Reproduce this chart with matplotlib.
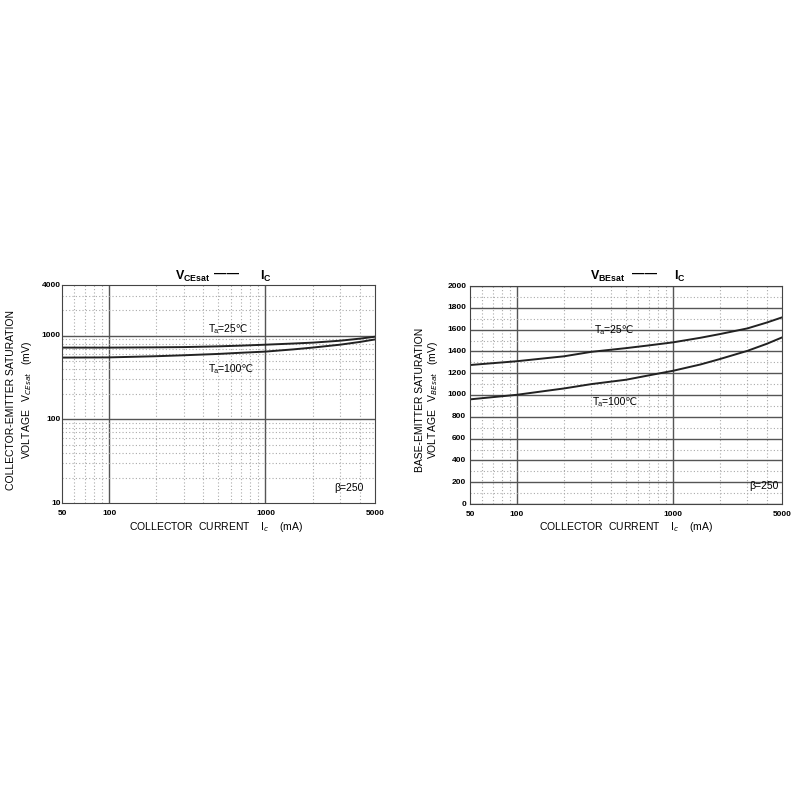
import matplotlib
matplotlib.use('Agg')
import matplotlib.pyplot as plt
from matplotlib.ticker import FixedLocator, NullFormatter

plt.rcParams['font.family'] = ['Liberation Sans', 'DejaVu Sans']
plt.rcParams['mathtext.fontset'] = 'custom'
plt.rcParams['mathtext.rm'] = 'Liberation Sans'
plt.rcParams['mathtext.bf'] = 'Liberation Sans:bold'

# collector current (mA)
ic = [50, 100, 200, 300, 500, 700, 1000, 1500, 2000, 3000, 4000, 5000]

# VCE(sat) in mV
vce_25 = [720, 720, 725, 730, 745, 760, 780, 805, 825, 870, 920, 970]
vce_100 = [547, 550, 568, 583, 605, 625, 645, 685, 720, 780, 840, 900]

# VBE(sat) in mV
vbe_25 = [1275, 1310, 1355, 1396, 1430, 1455, 1483, 1525, 1559, 1611, 1665, 1712]
vbe_100 = [960, 1002, 1060, 1100, 1140, 1180, 1222, 1280, 1330, 1405, 1470, 1528]

x_ticks = [50, 100, 1000, 5000]
x_minor = [60, 70, 80, 90, 200, 300, 400, 500, 600, 700, 800, 900, 2000, 3000, 4000]
vce_ticks = [10, 100, 1000, 4000]
vce_minor = [20, 30, 40, 50, 60, 70, 80, 90, 200, 300, 400, 500, 600, 700, 800, 900, 2000, 3000]
vbe_ticks = list(range(0, 2001, 200))
vbe_minor = list(range(100, 2000, 200))

fig = plt.figure(figsize=(8, 8), dpi=100)
ax1 = fig.add_axes([0.0775, 0.371, 0.391, 0.2725])
ax2 = fig.add_axes([0.5875, 0.37, 0.39, 0.2725])

major_col = '#555555'
minor_col = '#aaaaaa'


def style_x(ax):
    ax.set_xscale('log')
    ax.set_xlim(50, 5000)
    ax.xaxis.set_major_locator(FixedLocator([100, 1000]))
    ax.xaxis.set_minor_locator(FixedLocator(x_minor))
    ax.xaxis.set_major_formatter(NullFormatter())
    ax.xaxis.set_minor_formatter(NullFormatter())
    ax.tick_params(axis='both', which='both', length=0)
    for t in x_ticks:
        ax.text(t, -0.03, str(t), transform=ax.get_xaxis_transform(),
                ha='center', va='top', fontsize=6, fontweight='bold')
    ax.grid(which='major', axis='x', color=major_col, lw=1.0)
    ax.grid(which='minor', axis='x', color=minor_col, lw=0.8, ls=(0, (1, 2)))
    for s in ax.spines.values():
        s.set_color('#444444')
        s.set_linewidth(0.8)


# left panel: VCE(sat)
style_x(ax1)
ax1.set_yscale('log')
ax1.set_ylim(10, 4000)
ax1.yaxis.set_major_locator(FixedLocator([100, 1000]))
ax1.yaxis.set_minor_locator(FixedLocator(vce_minor))
ax1.yaxis.set_major_formatter(NullFormatter())
ax1.yaxis.set_minor_formatter(NullFormatter())
for t in vce_ticks:
    ax1.text(-0.005, t, str(t), transform=ax1.get_yaxis_transform(),
             ha='right', va='center', fontsize=6, fontweight='bold')
ax1.grid(which='major', axis='y', color=major_col, lw=1.0)
ax1.grid(which='minor', axis='y', color=minor_col, lw=0.8, ls=(0, (1, 2)))
ax1.plot(ic, vce_25, color='#222222', lw=1.4)
ax1.plot(ic, vce_100, color='#222222', lw=1.4)
ax1.text(0.47, 0.785, 'Tₐ=25℃', transform=ax1.transAxes, fontsize=7.5)
ax1.text(0.47, 0.6, 'Tₐ=100℃', transform=ax1.transAxes, fontsize=7.5)
ax1.text(0.87, 0.055, 'β=250', transform=ax1.transAxes, fontsize=7.5)
fig.text(0.219, 0.655, r'$\mathbf{V}_{\mathbf{CEsat}}$', fontsize=9, ha='left', va='center')
fig.text(0.283, 0.658, '——', fontsize=9, ha='center', va='center', fontweight='bold')
fig.text(0.325, 0.655, r'$\mathbf{I}_{\mathbf{C}}$', fontsize=9, ha='left', va='center')
fig.text(0.27, 0.341, 'COLLECTOR  CURRENT    I$_c$    (mA)', fontsize=7.5, ha='center', va='center')
fig.text(0.014, 0.5, 'COLLECTOR-EMITTER SATURATION', fontsize=7.5, rotation=90,
         ha='center', va='center')
fig.text(0.034, 0.5, 'VOLTAGE   V$_{CEsat}$   (mV)', fontsize=7.5, rotation=90,
         ha='center', va='center')

# right panel: VBE(sat)
style_x(ax2)
ax2.set_ylim(0, 2000)
ax2.yaxis.set_major_locator(FixedLocator(vbe_ticks))
ax2.yaxis.set_minor_locator(FixedLocator(vbe_minor))
ax2.yaxis.set_major_formatter(NullFormatter())
ax2.yaxis.set_minor_formatter(NullFormatter())
for t in vbe_ticks:
    ax2.text(-0.012, t, str(t), transform=ax2.get_yaxis_transform(),
             ha='right', va='center', fontsize=6, fontweight='bold')
ax2.grid(which='major', axis='y', color=major_col, lw=1.0)
ax2.grid(which='minor', axis='y', color=minor_col, lw=0.8, ls=(0, (1, 2)))
ax2.plot(ic, vbe_25, color='#222222', lw=1.4)
ax2.plot(ic, vbe_100, color='#222222', lw=1.4)
ax2.text(0.4, 0.785, 'Tₐ=25℃', transform=ax2.transAxes, fontsize=7.5)
ax2.text(0.395, 0.455, 'Tₐ=100℃', transform=ax2.transAxes, fontsize=7.5)
ax2.text(0.895, 0.07, 'β=250', transform=ax2.transAxes, fontsize=7.5)
fig.text(0.737, 0.655, r'$\mathbf{V}_{\mathbf{BEsat}}$', fontsize=9, ha='left', va='center')
fig.text(0.806, 0.658, '——', fontsize=9, ha='center', va='center', fontweight='bold')
fig.text(0.842, 0.655, r'$\mathbf{I}_{\mathbf{C}}$', fontsize=9, ha='left', va='center')
fig.text(0.782, 0.341, 'COLLECTOR  CURRENT    I$_c$    (mA)', fontsize=7.5, ha='center', va='center')
fig.text(0.525, 0.5, 'BASE-EMITTER SATURATION', fontsize=7.5, rotation=90,
         ha='center', va='center')
fig.text(0.541, 0.5, 'VOLTAGE   V$_{BEsat}$   (mV)', fontsize=7.5, rotation=90,
         ha='center', va='center')

fig.savefig('out.png', dpi=100)
